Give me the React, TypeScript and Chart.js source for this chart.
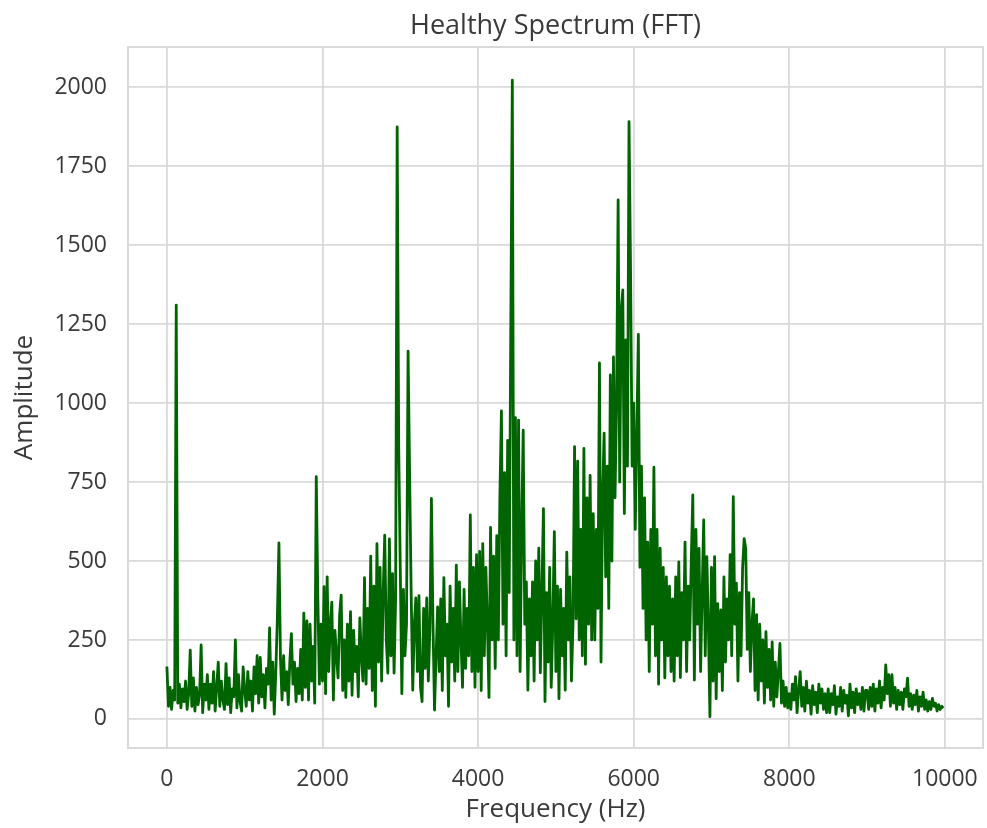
import React, { useEffect, useRef } from "react";
import { Chart, registerables } from "chart.js";

Chart.register(...registerables);

const TITLE = "Healthy Spectrum (FFT)";
const X_LABEL = "Frequency (Hz)";
const Y_LABEL = "Amplitude";
const X_TICKS = [0, 2000, 4000, 6000, 8000, 10000];
const Y_TICKS = [0, 250, 500, 750, 1000, 1250, 1500, 1750, 2000];
const FREQ_STEP_HZ = 20;

// Amplitudes, one value every 20 Hz
const amp0to2k = [
  166, 40, 100, 30, 90, 60, 1310, 50, 110, 35, 95, 55, 120, 30, 80, 218, 40, 130, 25, 100, 45, 75, 234, 20, 110,
  60, 140, 30, 110, 50, 150, 25, 100, 180, 40, 120, 60, 30, 175, 45, 130, 20, 95, 70, 250, 35, 140, 55, 25, 165,
  90, 40, 150, 60, 120, 25, 165, 80, 200, 50, 195, 70, 140, 35, 160, 110, 288, 60, 180, 15, 150, 320, 557, 190, 60,
  200, 90, 150, 45, 180, 270, 110, 180, 55, 160, 80, 220, 60, 335, 100, 310, 60, 300, 120, 230, 50, 767, 387, 110, 300,
];
const amp2kto4k = [
  120, 419, 80, 450, 150, 300, 370, 60, 280, 200, 130, 330, 392, 90, 250, 68, 300, 120, 340, 75, 280, 150, 230, 70, 320,
  200, 120, 447, 110, 350, 160, 515, 90, 420, 40, 555, 180, 480, 120, 400, 582, 250, 145, 570, 200, 460, 145, 380, 1874, 856,
  474, 80, 410, 200, 300, 1164, 771, 395, 91, 300, 383, 150, 390, 100, 55, 350, 160, 383, 120, 280, 698, 306, 28, 200, 355,
  150, 380, 90, 447, 200, 300, 40, 420, 180, 350, 120, 487, 150, 434, 250, 100, 410, 160, 350, 200, 646, 150, 480, 100, 520,
];
const amp4kto6k = [
  150, 530, 90, 555, 200, 480, 300, 68, 606, 250, 515, 160, 580, 250, 700, 975, 300, 780, 200, 882, 400, 1230, 2022, 250, 954,
  200, 946, 150, 600, 914, 300, 434, 91, 380, 200, 434, 120, 500, 250, 541, 146, 400, 666, 55, 400, 180, 480, 100, 300, 593,
  150, 420, 64, 410, 200, 350, 91, 528, 250, 450, 120, 300, 862, 317, 816, 250, 600, 200, 856, 173, 700, 300, 771, 250, 650,
  250, 600, 350, 1127, 180, 700, 905, 450, 800, 350, 1089, 500, 1146, 700, 1000, 1643, 750, 1294, 1358, 650, 1200, 800, 1891, 1411, 800,
];
const amp6kto8k = [
  1000, 600, 900, 1217, 480, 800, 350, 700, 250, 560, 150, 600, 300, 797, 200, 600, 110, 541, 250, 480, 130, 450, 200, 420, 150,
  380, 120, 450, 200, 497, 131, 400, 250, 560, 150, 420, 250, 500, 709, 123, 600, 300, 540, 150, 400, 630, 200, 514, 300, 7,
  480, 120, 514, 64, 365, 150, 345, 90, 450, 180, 380, 250, 520, 200, 704, 300, 430, 120, 400, 200, 480, 571, 540, 220, 400,
  150, 300, 380, 90, 330, 60, 300, 120, 250, 50, 276, 100, 220, 60, 244, 40, 180, 70, 150, 239, 50, 120, 40, 100, 35,
];
const amp8kto10k = [
  80, 30, 110, 60, 134, 20, 90, 150, 40, 100, 25, 120, 50, 90, 15, 105, 45, 85, 20, 110, 50, 95, 30, 80, 20,
  95, 20, 80, 45, 105, 15, 70, 40, 100, 25, 90, 50, 75, 10, 110, 35, 85, 20, 95, 45, 80, 30, 100, 25, 90,
  90, 30, 100, 40, 110, 25, 95, 50, 120, 35, 100, 60, 171, 80, 140, 40, 140, 50, 100, 30, 90, 45, 85, 30, 95,
  70, 129, 40, 80, 30, 75, 45, 90, 25, 70, 40, 85, 30, 60, 25, 55, 30, 65, 40, 50, 25, 45, 30, 40, 34,
];

const amplitudes = [...amp0to2k, ...amp2kto4k, ...amp4kto6k, ...amp6kto8k, ...amp8kto10k];
const frequencies = amplitudes.map((_, i) => i * FREQ_STEP_HZ);

const FONT = "'Open Sans', 'DejaVu Sans', sans-serif";
const TEXT = "#3a3a3a";
const GRID = "#d9d9d9";
const LINE = "#006400";

const framePlugin = {
  id: "frame",
  afterDraw(chart: any) {
    const { ctx, chartArea: a } = chart;
    ctx.save();
    ctx.strokeStyle = GRID;
    ctx.lineWidth = 2;
    ctx.strokeRect(a.left, a.top, a.right - a.left, a.bottom - a.top);
    ctx.restore();
  },
};

export default function App() {
  const ref = useRef<HTMLCanvasElement | null>(null);

  useEffect(() => {
    document.body.style.margin = "0";
    if (!ref.current) return;
    const chart = new Chart(ref.current, {
      type: "line",
      data: {
        datasets: [
          {
            data: frequencies.map((f, i) => ({ x: f, y: amplitudes[i] })),
            borderColor: LINE,
            borderWidth: 2.8,
            borderJoinStyle: "round",
            pointRadius: 0,
            tension: 0,
            fill: false,
          },
        ],
      },
      options: {
        responsive: false,
        animation: false,
        layout: { padding: { left: 0, right: 4, top: 0, bottom: 0 } },
        plugins: {
          legend: { display: false },
          tooltip: { enabled: false },
          title: {
            display: true,
            fullSize: false,
            text: TITLE,
            color: TEXT,
            font: { family: FONT, size: 27, weight: "normal", lineHeight: 1.2 },
            padding: { top: 10, bottom: 4.6 },
          },
        },
        scales: {
          x: {
            type: "linear",
            min: -500,
            max: 10490,
            afterBuildTicks: (s: any) => {
              s.ticks = X_TICKS.map((v) => ({ value: v }));
            },
            afterFit: (s: any) => {
              s.height = 80;
              s.paddingLeft = 0;
              s.paddingRight = 0;
            },
            grid: { color: GRID, lineWidth: 1.8, drawTicks: false },
            border: { display: false },
            ticks: {
              color: TEXT,
              font: { family: FONT, size: 23 },
              padding: 18,
              maxRotation: 0,
              autoSkip: false,
              callback: (v: any) => String(v),
            },
            title: {
              display: true,
              text: X_LABEL,
              color: TEXT,
              font: { family: FONT, size: 26, lineHeight: 1.2 },
              padding: { top: 0, bottom: 3 },
            },
          },
          y: {
            type: "linear",
            min: -92,
            max: 2127,
            afterBuildTicks: (s: any) => {
              s.ticks = Y_TICKS.map((v) => ({ value: v }));
            },
            afterFit: (s: any) => {
              s.width = 128;
              s.paddingTop = 0;
              s.paddingBottom = 0;
            },
            grid: { color: GRID, lineWidth: 1.8, drawTicks: false },
            border: { display: false },
            ticks: {
              color: TEXT,
              font: { family: FONT, size: 23 },
              padding: 21,
              autoSkip: false,
              callback: (v: any) => String(v),
            },
            title: {
              display: true,
              text: Y_LABEL,
              color: TEXT,
              font: { family: FONT, size: 26, lineHeight: 1.2 },
              padding: { top: 9, bottom: 0 },
            },
          },
        },
      },
      plugins: [framePlugin],
    } as any);
    return () => chart.destroy();
  }, []);

  return (
    <div style={{ width: 987, height: 828, position: "relative" }}>
      <canvas ref={ref} width={987} height={828} style={{ width: 987, height: 828, display: "block" }} />
    </div>
  );
}
